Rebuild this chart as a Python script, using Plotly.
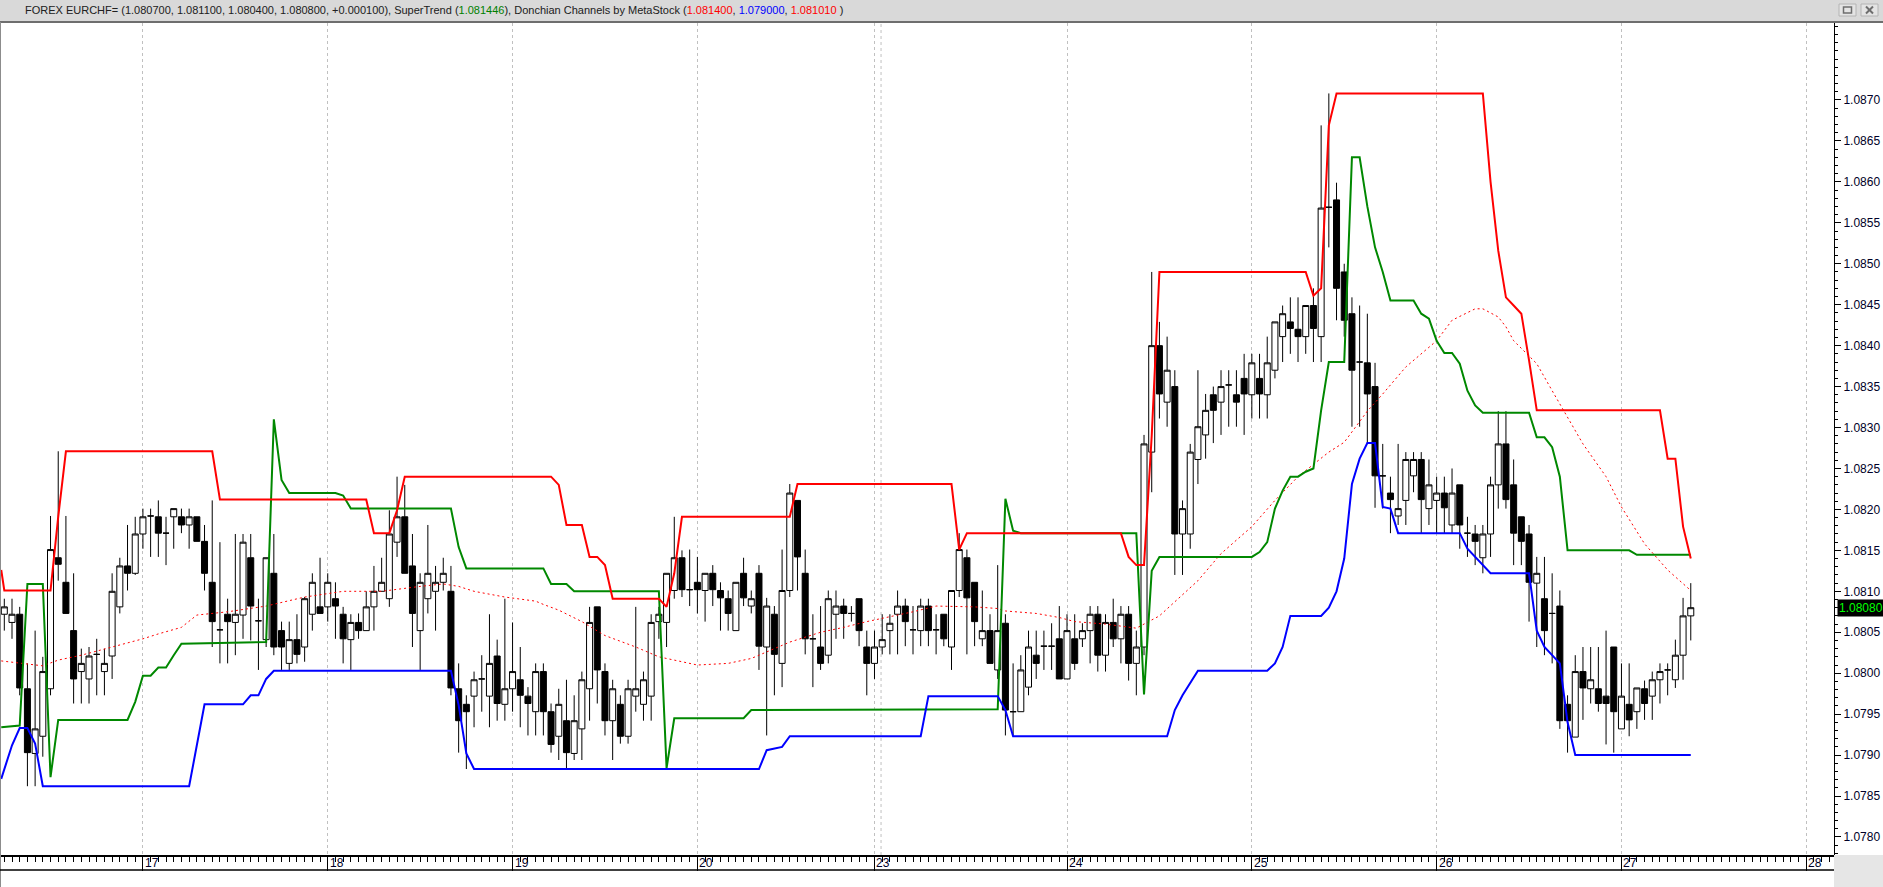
import plotly.graph_objects as go

# hourly bars, x = bar number; day boundaries on the time axis
day_pos = [18, 42, 66, 90, 113, 138, 162, 186, 210, 234]
day_text = ["17", "18", "19", "20", "23", "24", "25", "26", "27", "28"]
week_sep = [113.85]
price_ticks = [1.0780, 1.0785, 1.0790, 1.0795, 1.0800, 1.0805, 1.0810, 1.0815, 1.0820,
               1.0825, 1.0830, 1.0835, 1.0840, 1.0845, 1.0850, 1.0855, 1.0860, 1.0865, 1.0870]

opens = [
    1.08072, 1.08062, 1.08072, 1.07981, 1.07902, 1.07923, 1.07981, 1.08141, 1.08111, 1.08052,
    1.08002, 1.07993, 1.08023, 1.08002, 1.08021, 1.08081, 1.08131, 1.08122, 1.08170, 1.08192,
    1.08191, 1.08171, 1.08191, 1.08191, 1.08181, 1.08191, 1.08161, 1.08111, 1.08053, 1.08072,
    1.08062, 1.08071, 1.08141, 1.08064, 1.08041, 1.08122, 1.08052, 1.08012, 1.08041, 1.08032,
    1.08072, 1.08081, 1.08081, 1.08091, 1.08072, 1.08041, 1.08062, 1.08052, 1.08081, 1.08100,
    1.08091, 1.08160, 1.08191, 1.08131, 1.08052, 1.08091, 1.08100, 1.08111, 1.08100, 1.07981,
    1.07962, 1.07972, 1.07993, 1.07972, 1.08021, 1.07962, 1.07981, 1.07992, 1.07972, 1.07953,
    1.08002, 1.07953, 1.07923, 1.07942, 1.07902, 1.07932, 1.07981, 1.08081, 1.08002, 1.07942,
    1.07962, 1.07923, 1.07972, 1.07962, 1.07972, 1.08063, 1.08062, 1.08101, 1.08141, 1.08102,
    1.08111, 1.08101, 1.08122, 1.08101, 1.08091, 1.08052, 1.08122, 1.08082, 1.08122, 1.08032,
    1.08072, 1.08012, 1.08101, 1.08211, 1.08122, 1.08042, 1.08032, 1.08022, 1.08072, 1.08082,
    1.08073, 1.08091, 1.08032, 1.08012, 1.08032, 1.08052, 1.08072, 1.08082, 1.08053, 1.08052,
    1.08082, 1.08053, 1.08072, 1.08032, 1.08101, 1.08141, 1.08111, 1.08042, 1.08052, 1.08004,
    1.08061, 1.07953, 1.07953, 1.07983, 1.08022, 1.08033, 1.08033, 1.08042, 1.07993, 1.08042,
    1.08042, 1.08052, 1.08072, 1.08022, 1.08062, 1.08042, 1.08072, 1.08012, 1.08032, 1.08270,
    1.08400, 1.08331, 1.08350, 1.08170, 1.08170, 1.08261, 1.08291, 1.08340, 1.08331, 1.08352,
    1.08340, 1.08360, 1.08340, 1.08360, 1.08340, 1.08370, 1.08411, 1.08429, 1.08420, 1.08411,
    1.08449, 1.08411, 1.08569, 1.08578, 1.08490, 1.08439, 1.08380, 1.08379, 1.08350, 1.08241,
    1.08220, 1.08192, 1.08211, 1.08241, 1.08261, 1.08201, 1.08211, 1.08220, 1.08181, 1.08230,
    1.08171, 1.08170, 1.08141, 1.08170, 1.08230, 1.08280, 1.08230, 1.08191, 1.08170, 1.08110,
    1.08091, 1.08073, 1.08082, 1.07962, 1.07922, 1.08002, 1.07981, 1.07981, 1.07972, 1.08032,
    1.07932, 1.07962, 1.07953, 1.07981, 1.07972, 1.07992, 1.08004, 1.07992, 1.08022, 1.08070,
]
highs = [
    1.08091, 1.08091, 1.08081, 1.08012, 1.08052, 1.08020, 1.08192, 1.08271, 1.08192, 1.08122,
    1.08030, 1.08032, 1.08042, 1.08030, 1.08122, 1.08141, 1.08181, 1.08191, 1.08201, 1.08201,
    1.08211, 1.08191, 1.08201, 1.08201, 1.08201, 1.08191, 1.08181, 1.08211, 1.08160, 1.08091,
    1.08170, 1.08170, 1.08170, 1.08091, 1.08141, 1.08170, 1.08063, 1.08063, 1.08072, 1.08093,
    1.08122, 1.08141, 1.08122, 1.08111, 1.08081, 1.08072, 1.08073, 1.08100, 1.08131, 1.08141,
    1.08199, 1.08240, 1.08230, 1.08170, 1.08122, 1.08181, 1.08131, 1.08141, 1.08131, 1.08012,
    1.07973, 1.08002, 1.08022, 1.08072, 1.08041, 1.08091, 1.08062, 1.08032, 1.07983, 1.08012,
    1.08012, 1.07963, 1.07981, 1.07992, 1.07973, 1.08002, 1.08081, 1.08081, 1.08012, 1.07992,
    1.07973, 1.07992, 1.08081, 1.08002, 1.08072, 1.08081, 1.08122, 1.08191, 1.08150, 1.08151,
    1.08142, 1.08122, 1.08132, 1.08111, 1.08101, 1.08111, 1.08141, 1.08101, 1.08132, 1.08092,
    1.08082, 1.08151, 1.08231, 1.08211, 1.08151, 1.08072, 1.08082, 1.08101, 1.08101, 1.08091,
    1.08082, 1.08091, 1.08052, 1.08052, 1.08072, 1.08072, 1.08101, 1.08091, 1.08082, 1.08091,
    1.08091, 1.08072, 1.08072, 1.08101, 1.08171, 1.08151, 1.08111, 1.08101, 1.08072, 1.08132,
    1.08072, 1.08012, 1.08022, 1.08052, 1.08052, 1.08052, 1.08061, 1.08082, 1.08072, 1.08072,
    1.08061, 1.08082, 1.08082, 1.08072, 1.08091, 1.08082, 1.08082, 1.08052, 1.08291, 1.08490,
    1.08429, 1.08411, 1.08370, 1.08211, 1.08280, 1.08370, 1.08341, 1.08350, 1.08370, 1.08370,
    1.08370, 1.08390, 1.08390, 1.08390, 1.08411, 1.08429, 1.08449, 1.08459, 1.08459, 1.08449,
    1.08470, 1.08669, 1.08708, 1.08599, 1.08500, 1.08459, 1.08449, 1.08439, 1.08379, 1.08280,
    1.08240, 1.08280, 1.08270, 1.08270, 1.08270, 1.08261, 1.08240, 1.08240, 1.08250, 1.08230,
    1.08191, 1.08181, 1.08181, 1.08240, 1.08320, 1.08320, 1.08261, 1.08191, 1.08181, 1.08142,
    1.08142, 1.08122, 1.08101, 1.07973, 1.08022, 1.08032, 1.08032, 1.08032, 1.08052, 1.08032,
    1.08012, 1.08012, 1.07982, 1.07991, 1.08002, 1.08012, 1.08012, 1.08041, 1.08092, 1.08110,
]
lows = [
    1.08052, 1.08042, 1.07973, 1.07862, 1.07862, 1.07898, 1.07973, 1.08113, 1.08073, 1.07963,
    1.07963, 1.07963, 1.07973, 1.07973, 1.07993, 1.08073, 1.08101, 1.08120, 1.08152, 1.08142,
    1.08142, 1.08132, 1.08152, 1.08171, 1.08152, 1.08161, 1.08101, 1.08032, 1.08012, 1.08012,
    1.08022, 1.08042, 1.08040, 1.08004, 1.08032, 1.08022, 1.08004, 1.08004, 1.08012, 1.08014,
    1.08052, 1.08073, 1.08063, 1.08042, 1.08012, 1.08004, 1.08042, 1.08052, 1.08052, 1.08100,
    1.08081, 1.08142, 1.08122, 1.08032, 1.08004, 1.08073, 1.08052, 1.08101, 1.07973, 1.07903,
    1.07883, 1.07934, 1.07953, 1.07934, 1.07942, 1.07942, 1.07953, 1.07934, 1.07924, 1.07924,
    1.07924, 1.07903, 1.07894, 1.07883, 1.07894, 1.07894, 1.07942, 1.07963, 1.07924, 1.07894,
    1.07914, 1.07914, 1.07953, 1.07942, 1.07942, 1.08042, 1.08032, 1.08091, 1.08093, 1.08082,
    1.08073, 1.08063, 1.08082, 1.08052, 1.08052, 1.08052, 1.08082, 1.08073, 1.08004, 1.07924,
    1.07973, 1.07983, 1.08093, 1.08101, 1.08023, 1.07983, 1.08004, 1.08012, 1.08042, 1.08042,
    1.08063, 1.08033, 1.07973, 1.07993, 1.08023, 1.08023, 1.08023, 1.08033, 1.08023, 1.08033,
    1.08033, 1.08023, 1.08033, 1.08004, 1.08093, 1.08023, 1.08033, 1.08033, 1.08012, 1.07993,
    1.07924, 1.07924, 1.07953, 1.07973, 1.07993, 1.08004, 1.08004, 1.07993, 1.07993, 1.08004,
    1.08032, 1.08012, 1.08002, 1.08002, 1.08032, 1.08012, 1.07991, 1.07973, 1.08022, 1.08221,
    1.08311, 1.08301, 1.08120, 1.08120, 1.08152, 1.08231, 1.08262, 1.08281, 1.08291, 1.08301,
    1.08301, 1.08291, 1.08311, 1.08311, 1.08311, 1.08360, 1.08380, 1.08390, 1.08380, 1.08390,
    1.08380, 1.08380, 1.08520, 1.08431, 1.08411, 1.08301, 1.08301, 1.08280, 1.08202, 1.08201,
    1.08171, 1.08181, 1.08181, 1.08221, 1.08171, 1.08181, 1.08171, 1.08171, 1.08171, 1.08152,
    1.08142, 1.08132, 1.08122, 1.08142, 1.08201, 1.08201, 1.08132, 1.08132, 1.08063, 1.08032,
    1.08022, 1.08012, 1.07932, 1.07903, 1.07922, 1.07943, 1.07963, 1.07953, 1.07913, 1.07903,
    1.07932, 1.07923, 1.07932, 1.07943, 1.07943, 1.07963, 1.07973, 1.07982, 1.07992, 1.08040,
]
closes = [
    1.08081, 1.08072, 1.07982, 1.07903, 1.07932, 1.08002, 1.08151, 1.08133, 1.08073, 1.07993,
    1.08012, 1.08021, 1.08023, 1.08012, 1.08100, 1.08131, 1.08122, 1.08170, 1.08191, 1.08192,
    1.08171, 1.08171, 1.08201, 1.08181, 1.08191, 1.08161, 1.08122, 1.08063, 1.08053, 1.08063,
    1.08072, 1.08160, 1.08082, 1.08064, 1.08141, 1.08032, 1.08032, 1.08041, 1.08023, 1.08091,
    1.08111, 1.08073, 1.08111, 1.08082, 1.08042, 1.08062, 1.08052, 1.08081, 1.08100, 1.08111,
    1.08170, 1.08191, 1.08122, 1.08073, 1.08111, 1.08122, 1.08111, 1.08122, 1.07982, 1.07942,
    1.07953, 1.07992, 1.07993, 1.08012, 1.07963, 1.07981, 1.08002, 1.07973, 1.07963, 1.08002,
    1.07953, 1.07913, 1.07962, 1.07903, 1.07942, 1.07992, 1.08062, 1.08004, 1.07942, 1.07981,
    1.07923, 1.07981, 1.07981, 1.07992, 1.08062, 1.08072, 1.08122, 1.08141, 1.08102, 1.08102,
    1.08102, 1.08122, 1.08102, 1.08092, 1.08073, 1.08111, 1.08092, 1.08091, 1.08033, 1.08082,
    1.08023, 1.08101, 1.08220, 1.08142, 1.08042, 1.08042, 1.08012, 1.08091, 1.08082, 1.08073,
    1.08073, 1.08052, 1.08012, 1.08032, 1.08041, 1.08061, 1.08082, 1.08063, 1.08053, 1.08082,
    1.08052, 1.08053, 1.08042, 1.08101, 1.08151, 1.08092, 1.08063, 1.08052, 1.08012, 1.08052,
    1.07955, 1.07953, 1.08004, 1.08032, 1.08012, 1.08033, 1.08033, 1.07993, 1.08052, 1.08012,
    1.08052, 1.08072, 1.08022, 1.08062, 1.08042, 1.08072, 1.08012, 1.08032, 1.08280, 1.08400,
    1.08341, 1.08370, 1.08170, 1.08201, 1.08270, 1.08301, 1.08321, 1.08321, 1.08350, 1.08352,
    1.08331, 1.08341, 1.08379, 1.08341, 1.08379, 1.08429, 1.08439, 1.08421, 1.08411, 1.08449,
    1.08421, 1.08568, 1.08569, 1.08470, 1.08431, 1.08370, 1.08380, 1.08341, 1.08241, 1.08241,
    1.08212, 1.08201, 1.08261, 1.08261, 1.08212, 1.08230, 1.08220, 1.08202, 1.08220, 1.08181,
    1.08171, 1.08161, 1.08170, 1.08230, 1.08280, 1.08212, 1.08171, 1.08161, 1.08111, 1.08122,
    1.08052, 1.08073, 1.07942, 1.07942, 1.08002, 1.07982, 1.07992, 1.07963, 1.07963, 1.07953,
    1.07972, 1.07943, 1.07982, 1.07963, 1.07992, 1.08002, 1.08004, 1.08022, 1.08070, 1.08080,
]

# Donchian upper (red), vertices at bar numbers
upper_x = [-0.4, 0, 6, 7, 8, 27, 28, 47, 48, 50, 51, 52, 71, 72, 73, 75, 76, 77, 78, 79,
           85, 86, 87, 88, 102, 103, 123, 124, 125, 145, 146, 147, 148, 149, 150, 169, 170, 171,
           172, 173, 192, 193, 194, 195, 196, 197, 198, 199, 215, 216, 217, 218, 219]
upper_y = [1.08126, 1.08101, 1.08101, 1.08191, 1.08271, 1.08271, 1.08212, 1.08212, 1.08171,
           1.08171, 1.08199, 1.08240, 1.08240, 1.08230, 1.08181, 1.08181, 1.08142, 1.08142,
           1.08132, 1.08091, 1.08091, 1.08081, 1.08122, 1.08191, 1.08191, 1.08231, 1.08231,
           1.08151, 1.08171, 1.08171, 1.08142, 1.08132, 1.08132, 1.08290, 1.08490, 1.08490,
           1.08461, 1.08470, 1.08669, 1.08708, 1.08708, 1.08600, 1.08516, 1.08459, 1.08449,
           1.08439, 1.08382, 1.08321, 1.08321, 1.08262, 1.08262, 1.08179, 1.08140]

# Donchian lower (blue)
lower_x = [-0.4, 1, 2, 3, 4, 5, 24, 25, 26, 31, 32, 33, 34, 35, 58, 59, 60, 61, 98, 99, 101,
           102, 119, 120, 129, 130, 131, 151, 152, 153, 155, 164, 165, 166, 167, 171, 172, 173,
           174, 175, 176, 177, 178, 179, 180, 181, 189, 190, 191, 192, 193, 198, 199, 200, 201,
           202, 203, 204, 219]
lower_y = [1.07871, 1.07912, 1.07933, 1.07933, 1.07914, 1.07862, 1.07862, 1.07910, 1.07962,
           1.07962, 1.07973, 1.07973, 1.07993, 1.08003, 1.08003, 1.07961, 1.07902, 1.07883,
           1.07883, 1.07906, 1.07910, 1.07923, 1.07923, 1.07972, 1.07972, 1.07955, 1.07923,
           1.07923, 1.07955, 1.07973, 1.08003, 1.08003, 1.08012, 1.08032, 1.08070, 1.08070,
           1.08080, 1.08100, 1.08140, 1.08231, 1.08262, 1.08281, 1.08281, 1.08203, 1.08201,
           1.08171, 1.08171, 1.08152, 1.08142, 1.08132, 1.08122, 1.08122, 1.08052, 1.08032,
           1.08022, 1.08012, 1.07940, 1.07900, 1.07900]

# SuperTrend (green)
st_x = [-0.4, 2, 3, 5, 6, 7, 16, 17, 18, 19, 20, 21, 22, 23, 34, 35, 36, 37, 43, 44, 45, 58,
        59, 60, 70, 71, 73, 74, 85, 86, 87, 96, 97, 129, 130, 131, 132, 147, 148, 149, 150,
        162, 163, 164, 165, 166, 167, 168, 169, 170, 171, 172, 174, 175, 176, 177, 178, 179,
        180, 183, 184, 185, 186, 187, 188, 189, 190, 191, 192, 198, 199, 200, 201, 202, 203,
        211, 212, 219]
st_y = [1.07934, 1.07936, 1.08109, 1.08109, 1.07873, 1.07943, 1.07943, 1.07965, 1.07997,
        1.07997, 1.08007, 1.08007, 1.08022, 1.08036, 1.08038, 1.08310, 1.08236, 1.08220,
        1.08220, 1.08217, 1.08201, 1.08201, 1.08154, 1.08128, 1.08128, 1.08109, 1.08109,
        1.08100, 1.08100, 1.07884, 1.07945, 1.07945, 1.07955, 1.07956, 1.08213, 1.08174,
        1.08171, 1.08171, 1.07974, 1.08125, 1.08142, 1.08142, 1.08148, 1.08160, 1.08201,
        1.08223, 1.08240, 1.08240, 1.08246, 1.08250, 1.08321, 1.08380, 1.08380, 1.08630,
        1.08630, 1.08570, 1.08520, 1.08490, 1.08455, 1.08455, 1.08439, 1.08433, 1.08406,
        1.08391, 1.08391, 1.08378, 1.08345, 1.08327, 1.08318, 1.08318, 1.08288, 1.08288,
        1.08276, 1.08240, 1.08150, 1.08150, 1.081446, 1.081446]

# Donchian middle average (dotted red)
mid_x = [-0.4, 2, 5, 7, 10, 14, 18, 20, 23, 25, 29, 34, 38, 39, 44, 49, 54, 57, 59, 61, 65,
         69, 70, 72, 75, 78, 82, 85, 88, 90, 94, 97, 99, 102, 106, 109, 112, 115, 118, 121,
         126, 129, 130, 134, 137, 139, 143, 147, 150, 155, 158, 162, 165, 168, 172, 174, 177,
         179, 182, 186, 188, 191, 192, 194, 195, 196, 199, 201, 203, 205, 208, 210, 213, 216,
         219]
mid_y = [1.08015, 1.08012, 1.08009, 1.08016, 1.08022, 1.08032, 1.08042, 1.08048, 1.08056,
         1.08071, 1.08075, 1.08082, 1.08091, 1.08093, 1.08100, 1.08100, 1.08106, 1.08109,
         1.08106, 1.08100, 1.08093, 1.08088, 1.08084, 1.08077, 1.08063, 1.08046, 1.08032,
         1.08020, 1.08014, 1.08010, 1.08012, 1.08018, 1.08026, 1.08038, 1.08050, 1.08056,
         1.08063, 1.08069, 1.08075, 1.08082, 1.08081, 1.08079, 1.08076, 1.08073, 1.08068,
         1.08063, 1.08060, 1.08055, 1.08070, 1.08113, 1.08146, 1.08179, 1.08211, 1.08240,
         1.08270, 1.08282, 1.08320, 1.08341, 1.08374, 1.08406, 1.08431, 1.08445, 1.08445,
         1.08435, 1.08423, 1.08406, 1.08378, 1.08345, 1.08313, 1.08280, 1.08240, 1.08203,
         1.08158, 1.08126, 1.08101]

W, H = 1883, 887
ML, MR, MT, MB = 1, 49, 23, 32
PW, PH = W - ML - MR, H - MT - MB


def px(x):
    return (x - ML) / PW


def py(y):
    return (MT + PH - y) / PH


bars = list(range(len(opens)))
fig = go.Figure()
fig.add_trace(
    go.Candlestick(
        x=bars,
        open=opens,
        high=highs,
        low=lows,
        close=closes,
        increasing=dict(line=dict(color="black", width=1), fillcolor="white"),
        decreasing=dict(line=dict(color="black", width=1), fillcolor="black"),
        whiskerwidth=0,
        hoverinfo="skip",
        showlegend=False,
    )
)
fig.add_trace(go.Scatter(x=mid_x, y=mid_y, mode="lines",
                         line=dict(color="#ff0000", width=1, dash="2px,3px"), showlegend=False))
fig.add_trace(go.Scatter(x=st_x, y=st_y, mode="lines",
                         line=dict(color="#008800", width=2), showlegend=False))
fig.add_trace(go.Scatter(x=lower_x, y=lower_y, mode="lines",
                         line=dict(color="#0000ff", width=2), showlegend=False))
fig.add_trace(go.Scatter(x=upper_x, y=upper_y, mode="lines",
                         line=dict(color="#ff0000", width=2), showlegend=False))

shapes = []
for xs in week_sep:
    shapes.append(dict(type="line", xref="x", yref="paper", x0=xs, x1=xs, y0=0, y1=1,
                       line=dict(color="#c0c0c0", width=1, dash="3px,3px"), layer="below"))
# title bar and window frame
shapes += [
    dict(type="rect", xref="paper", yref="paper", x0=px(0), x1=px(W), y0=py(22), y1=py(0),
         fillcolor="#d9d9d9", line=dict(width=0), layer="below"),
    dict(type="line", xref="paper", yref="paper", x0=px(0), x1=px(W), y0=py(22), y1=py(22),
         line=dict(color="#6e6e6e", width=2)),
    dict(type="line", xref="paper", yref="paper", x0=px(0.5), x1=px(0.5), y0=py(H), y1=py(22),
         line=dict(color="#8c8c8c", width=1)),
    dict(type="rect", xref="paper", yref="paper", x0=px(1834), x1=px(W), y0=py(H), y1=py(855),
         fillcolor="#e6e6e6", line=dict(width=0)),
    dict(type="line", xref="paper", yref="paper", x0=px(0), x1=px(1834), y0=py(870), y1=py(870),
         line=dict(color="black", width=1.5)),
    dict(type="rect", xref="paper", yref="paper", x0=px(1839), x1=px(1856), y0=py(16), y1=py(4),
         fillcolor="#e4e4e4", line=dict(color="#b4b4b4", width=1)),
    dict(type="rect", xref="paper", yref="paper", x0=px(1843.5), x1=px(1851.5), y0=py(13), y1=py(7),
         fillcolor="rgba(0,0,0,0)", line=dict(color="#6e6e6e", width=1.5)),
    dict(type="rect", xref="paper", yref="paper", x0=px(1861), x1=px(1878), y0=py(16), y1=py(4),
         fillcolor="#e4e4e4", line=dict(color="#b4b4b4", width=1)),
    dict(type="line", xref="paper", yref="paper", x0=px(1866), x1=px(1873), y0=py(6.5), y1=py(13.5),
         line=dict(color="#6e6e6e", width=2)),
    dict(type="line", xref="paper", yref="paper", x0=px(1866), x1=px(1873), y0=py(13.5), y1=py(6.5),
         line=dict(color="#6e6e6e", width=2)),
]

title = (
    f"FOREX EURCHF= ({opens[-1]:.6f}, {highs[-1]:.6f}, {lows[-1]:.6f}, {closes[-1]:.6f}, "
    f"{closes[-1] - closes[-2]:+.6f}), SuperTrend "
    f"(<span style='color:#008000'>{st_y[-1]:.6f}</span>), Donchian Channels by MetaStock "
    f"(<span style='color:#ff0000'>{upper_y[-1]:.6f}</span>, "
    f"<span style='color:#0000ff'>{lower_y[-1]:.6f}</span>, "
    f"<span style='color:#ff0000'>{mid_y[-1]:.6f}</span> )"
)
annotations = [
    dict(text=title, xref="paper", yref="paper", x=px(23), y=py(10.5), xanchor="left",
         yanchor="middle", showarrow=False, font=dict(size=11, color="#202020")),
    dict(text=f"{closes[-1]:.5f}", xref="paper", yref="y", x=px(1837), y=closes[-1],
         xanchor="left", yanchor="middle", showarrow=False, bgcolor="black", borderpad=1,
         font=dict(size=12, color="#00ff00")),
]
for pos, label in zip(day_pos, day_text):
    annotations.append(dict(text=label, xref="x", yref="paper", x=pos, y=py(863),
                            xanchor="left", yanchor="middle", xshift=0, showarrow=False,
                            font=dict(size=12, color="#000028")))

fig.update_layout(
    width=W,
    height=H,
    margin=dict(l=ML, r=MR, t=MT, b=MB),
    paper_bgcolor="white",
    plot_bgcolor="white",
    font=dict(family="Liberation Sans, Arial, sans-serif", size=12, color="black"),
    showlegend=False,
    boxgap=0.22,
    boxgroupgap=0,
    shapes=shapes,
    annotations=annotations,
    xaxis=dict(
        range=[-0.43, 237.6],
        tickmode="array",
        tickvals=day_pos,
        ticktext=day_text,
        showticklabels=False,
        ticks="outside",
        ticklen=14,
        tickcolor="black",
        showline=True,
        linecolor="black",
        linewidth=1.5,
        showgrid=True,
        gridcolor="#c0c0c0",
        griddash="3px,3px",
        gridwidth=1,
        zeroline=False,
        rangeslider=dict(visible=False),
        minor=dict(tickmode="linear", tick0=0, dtick=1, ticks="outside", ticklen=5,
                   tickcolor="black", showgrid=False),
    ),
    yaxis=dict(
        side="right",
        range=[1.07778, 1.08794],
        tickmode="array",
        tickvals=price_ticks,
        tickformat=".4f",
        ticks="outside",
        ticklen=6,
        tickcolor="black",
        showline=True,
        linecolor="black",
        linewidth=1,
        showgrid=False,
        zeroline=False,
        tickfont=dict(size=12, color="#000028"),
        minor=dict(tickmode="linear", tick0=1.078, dtick=0.0001, ticks="outside", ticklen=3,
                   tickcolor="black", showgrid=False),
    ),
)

# the page body has a default 8px margin; drop it so the figure fills the window
fig.write_html(
    "out.html",
    config={"displayModeBar": False},
    post_script="document.body.style.margin='0';document.body.style.overflow='hidden';",
)
